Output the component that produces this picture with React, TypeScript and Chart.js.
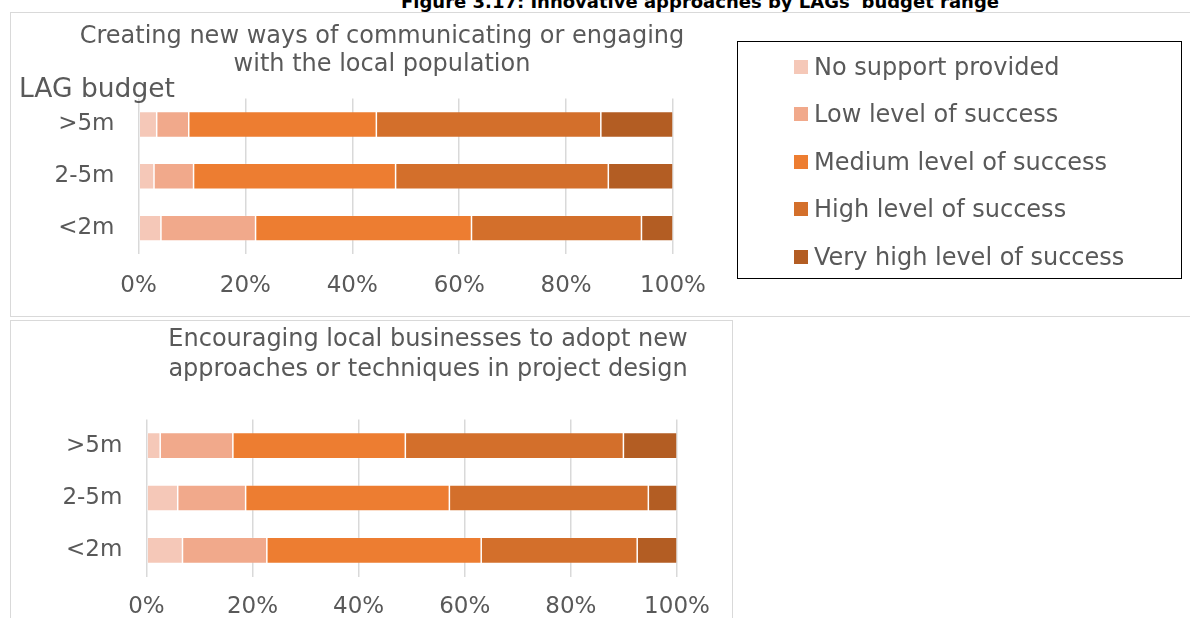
import React, { useEffect, useRef } from "react";
import { Chart, registerables } from "chart.js";

Chart.register(...registerables);

const categories = [">5m", "2-5m", "<2m"];
const seriesNames = [
  "No support provided",
  "Low level of success",
  "Medium level of success",
  "High level of success",
  "Very high level of success",
];
const seriesColors = ["#F5C8B8", "#F1A98B", "#ED7D31", "#D36F2B", "#B35D23"];
const xTicks = [0, 20, 40, 60, 80, 100];

// Chart 1: Creating new ways of communicating or engaging with the local population
const commNoSupport = [3.4, 2.9, 4.2];
const commLow = [6.0, 7.4, 17.7];
const commMedium = [35.1, 37.8, 40.4];
const commHigh = [42.0, 39.8, 31.8];
const commVeryHigh = [13.5, 12.1, 5.9];

// Chart 2: Encouraging local businesses to adopt new approaches or techniques in project design
const bizNoSupport = [2.6, 5.9, 6.8];
const bizLow = [13.7, 12.8, 15.9];
const bizMedium = [32.5, 38.4, 40.4];
const bizHigh = [41.1, 37.5, 29.4];
const bizVeryHigh = [10.1, 5.4, 7.5];

const TEXT = "#595959";
const FONT = '"DejaVu Sans", Verdana, sans-serif';

function makeConfig(series: number[][], geo: any): any {
  return {
    type: "bar",
    data: {
      labels: categories,
      datasets: series.map((vals, i) => ({
        label: seriesNames[i],
        data: vals,
        backgroundColor: seriesColors[i],
        borderColor: "rgba(255,255,255,0.25)",
        borderWidth: 0.75,
        borderSkipped: false,
        barPercentage: 1,
        categoryPercentage: 0.5,
      })),
    },
    options: {
      indexAxis: "y",
      responsive: false,
      animation: false,
      devicePixelRatio: 1,
      layout: { padding: { left: 0, right: geo.right, top: geo.top, bottom: 0 } },
      plugins: { legend: { display: false }, title: { display: false }, tooltip: { enabled: false } },
      scales: {
        x: {
          stacked: true,
          min: 0,
          max: 100,
          afterBuildTicks: (scale: any) => {
            scale.ticks = xTicks.map((v) => ({ value: v }));
          },
          afterFit: (scale: any) => {
            scale.height = geo.xHeight;
          },
          grid: { color: "#D9D9D9", lineWidth: 1.5, drawTicks: false },
          border: { display: false },
          ticks: {
            color: TEXT,
            font: { family: FONT, size: 23 },
            padding: geo.xPad,
            maxRotation: 0,
            callback: (v: any) => v + "%",
          },
        },
        y: {
          stacked: true,
          afterFit: (scale: any) => {
            scale.width = geo.yWidth;
          },
          grid: { display: false, drawTicks: false },
          border: { display: false },
          ticks: { color: TEXT, font: { family: FONT, size: 23 }, padding: geo.yPad },
        },
      },
    },
  };
}

export default function App() {
  const topRef = useRef<HTMLCanvasElement>(null);
  const botRef = useRef<HTMLCanvasElement>(null);

  useEffect(() => {
    const c1 = new Chart(
      topRef.current as HTMLCanvasElement,
      makeConfig([commNoSupport, commLow, commMedium, commHigh, commVeryHigh], {
        right: 57,
        top: 86.5,
        xHeight: 62,
        xPad: 18,
        yWidth: 128.5,
        yPad: 24,
      })
    );
    const c2 = new Chart(
      botRef.current as HTMLCanvasElement,
      makeConfig([bizNoSupport, bizLow, bizMedium, bizHigh, bizVeryHigh], {
        right: 55,
        top: 99.5,
        xHeight: 41.5,
        xPad: 16.7,
        yWidth: 136.4,
        yPad: 24,
      })
    );
    return () => {
      c1.destroy();
      c2.destroy();
    };
  }, []);

  return (
    <div
      style={{
        position: "absolute",
        left: 0,
        top: 0,
        width: 1190,
        height: 618,
        overflow: "hidden",
        background: "#fff",
        fontFamily: FONT,
        color: TEXT,
      }}
    >
      {/* panel frames */}
      <div
        style={{
          position: "absolute",
          left: 10,
          top: 12,
          width: 1200,
          height: 303,
          border: "1px solid #D9D9D9",
        }}
      />
      <div
        style={{
          position: "absolute",
          left: 10,
          top: 320,
          width: 721,
          height: 320,
          border: "1px solid #D9D9D9",
        }}
      />
      {/* figure title */}
      <div
        style={{
          position: "absolute",
          left: 105,
          top: -8,
          width: 1190,
          textAlign: "center",
          fontWeight: "bold",
          fontSize: 18,
          lineHeight: "20px",
          color: "#000",
          whiteSpace: "nowrap",
        }}
      >
        Figure 3.17: Innovative approaches by LAGs' budget range
      </div>
      {/* top chart */}
      <canvas
        ref={topRef}
        width={720}
        height={304}
        style={{ position: "absolute", left: 10, top: 12, width: 720, height: 304 }}
      />
      <div
        style={{
          position: "absolute",
          left: 0,
          top: 21,
          width: 764,
          textAlign: "center",
          fontSize: 24,
          lineHeight: "28px",
          whiteSpace: "nowrap",
        }}
      >
        Creating new ways of communicating or engaging
        <br />
        with the local population
      </div>
      <div
        style={{
          position: "absolute",
          left: 19,
          top: 73,
          fontSize: 26.5,
          lineHeight: "30px",
          whiteSpace: "nowrap",
        }}
      >
        LAG budget
      </div>
      {/* legend */}
      <div
        style={{
          position: "absolute",
          left: 737,
          top: 41,
          width: 443,
          height: 236,
          border: "1.5px solid #000",
        }}
      >
        {seriesNames.map((name, i) => (
          <div
            key={name}
            style={{
              position: "absolute",
              left: 56,
              top: 25 + i * 47.4 - 14,
              height: 28,
              display: "flex",
              alignItems: "center",
              whiteSpace: "nowrap",
              fontSize: 24,
            }}
          >
            <span
              style={{
                display: "inline-block",
                width: 14,
                height: 14,
                background: seriesColors[i],
                marginRight: 6,
              }}
            />
            <span>{name}</span>
          </div>
        ))}
      </div>
      {/* bottom chart */}
      <canvas
        ref={botRef}
        width={722}
        height={298}
        style={{ position: "absolute", left: 10, top: 320, width: 722, height: 298 }}
      />
      <div
        style={{
          position: "absolute",
          left: 0,
          top: 323,
          width: 856,
          textAlign: "center",
          fontSize: 24,
          lineHeight: "30px",
          whiteSpace: "nowrap",
        }}
      >
        Encouraging local businesses to adopt new
        <br />
        approaches or techniques in project design
      </div>
    </div>
  );
}
